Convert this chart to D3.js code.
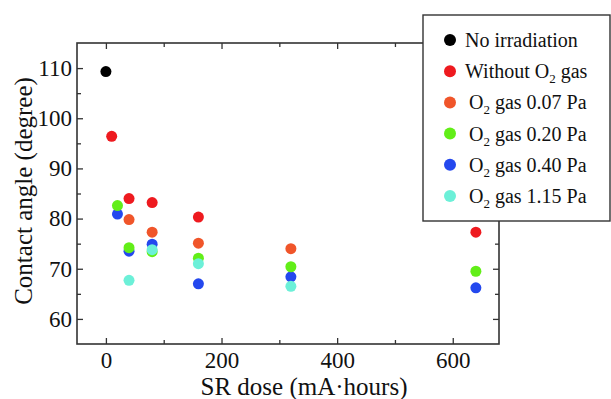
<!DOCTYPE html>
<meta charset="utf-8">
<body style="margin:0">
<svg width="611" height="399"></svg>
<script src="https://cdn.jsdelivr.net/npm/d3@7"></script>
<script>

// data: [dose, contact angle]
var noIrradiation = [[0, 109.3]];
var withoutO2 = [[10, 96.4], [40, 84.0], [80, 83.2], [160, 80.3], [640, 77.3]];
var o2_007 = [[40, 79.8], [80, 77.3], [160, 75.1], [320, 74.0]];
var o2_040 = [[20, 80.9], [40, 73.5], [80, 74.9], [160, 67.0], [320, 68.4], [640, 66.2]];
var o2_020 = [[20, 82.6], [40, 74.2], [80, 73.4], [160, 72.1], [320, 70.4], [640, 69.5]];
var o2_115 = [[40, 67.7], [80, 73.8], [160, 71.0], [320, 66.5]];

var xMajor = [0, 200, 400, 600];
var xMinor = [100, 300, 500];
var yMajor = [60, 70, 80, 90, 100, 110];
var yMinor = [65, 75, 85, 95, 105];

var series = [
  {name: "No irradiation", data: noIrradiation, color: "#000000"},
  {name: "Without O2 gas", data: withoutO2, color: "#ee1a1f"},
  {name: "O2 gas 0.07 Pa", data: o2_007, color: "#f0552a"},
  {name: "O2 gas 0.40 Pa", data: o2_040, color: "#2448ee"},
  {name: "O2 gas 0.20 Pa", data: o2_020, color: "#62ee18"},
  {name: "O2 gas 1.15 Pa", data: o2_115, color: "#6cf0d8"}
];
var legendOrder = [0, 1, 2, 4, 3, 5];

var svg = d3.select("svg")
    .style("font-family", "'Liberation Serif'");
var pl = 77, pr = 499, pt = 43, pb = 344;

var x = d3.scaleLinear().domain([-50, 680]).range([pl, pr]);
var y = d3.scaleLinear().domain([55, 115]).range([pb, pt]);

function axisGroup(axis, tx, ty) {
  var g = svg.append("g")
      .attr("transform", "translate(" + tx + "," + ty + ")")
      .call(axis);
  g.attr("font-family", null).attr("font-size", null);
  g.select(".domain").remove();
  g.selectAll("line").attr("stroke", "#333").attr("stroke-width", 1.3);
  g.selectAll("text")
    .style("font-family", "'Liberation Serif'")
    .style("font-size", "23px")
    .attr("fill", "#111");
  return g;
}

// bottom / left with labels
axisGroup(d3.axisBottom(x).tickValues(xMajor).tickSize(-6).tickPadding(8), 0, pb);
axisGroup(d3.axisBottom(x).tickValues(xMinor).tickSize(-4).tickFormat(""), 0, pb);
axisGroup(d3.axisLeft(y).tickValues(yMajor).tickSize(-6).tickPadding(5), pl, 0);
axisGroup(d3.axisLeft(y).tickValues(yMinor).tickSize(-4).tickFormat(""), pl, 0);
// top / right mirror ticks
axisGroup(d3.axisTop(x).tickValues(xMajor).tickSize(-6).tickFormat(""), 0, pt);
axisGroup(d3.axisTop(x).tickValues(xMinor).tickSize(-4).tickFormat(""), 0, pt);
axisGroup(d3.axisRight(y).tickValues(yMajor).tickSize(-6).tickFormat(""), pr, 0);
axisGroup(d3.axisRight(y).tickValues(yMinor).tickSize(-4).tickFormat(""), pr, 0);

svg.append("rect")
  .attr("x", pl).attr("y", pt)
  .attr("width", pr - pl).attr("height", pb - pt)
  .attr("fill", "none").attr("stroke", "#333").attr("stroke-width", 1.6);

// points
series.forEach(function(s) {
  svg.append("g").selectAll("circle")
    .data(s.data)
    .enter().append("circle")
      .attr("cx", function(d) { return x(d[0]); })
      .attr("cy", function(d) { return y(d[1]); })
      .attr("r", 5.5)
      .attr("fill", s.color);
});

// axis titles
svg.append("text")
  .attr("x", 304).attr("y", 395)
  .attr("text-anchor", "middle")
  .style("font-family", "'Liberation Serif'")
  .style("font-size", "25px")
  .attr("fill", "#111")
  .text("SR dose (mA\u00b7hours)");

svg.append("text")
  .attr("transform", "translate(32,191) rotate(-90)")
  .attr("text-anchor", "middle")
  .style("font-family", "'Liberation Serif'")
  .style("font-size", "25px")
  .attr("fill", "#111")
  .text("Contact angle (degree)");

// legend
var legend = svg.append("g");
legend.append("rect")
  .attr("x", 423).attr("y", 15).attr("width", 187).attr("height", 206)
  .attr("fill", "#fff").attr("stroke", "#333").attr("stroke-width", 1.4);

legendOrder.forEach(function(idx, i) {
  var s = series[idx];
  var cy = 40 + i * 31.2;
  legend.append("circle")
    .attr("cx", 450).attr("cy", cy).attr("r", 6)
    .attr("fill", s.color);
  var t = legend.append("text")
    .attr("x", idx <= 1 ? 465 : 469).attr("y", cy + 7)
    .style("font-family", "'Liberation Serif'")
    .style("font-size", "20px")
    .attr("fill", "#111");
  var m = s.name.match(/^(.*?)O2(.*)$/);
  if (m) {
    t.append("tspan").text(m[1] + "O");
    t.append("tspan").attr("dy", 5).style("font-size", "13px").text("2");
    t.append("tspan").attr("dy", -5).text(m[2]);
  } else {
    t.text(s.name);
  }
});

</script>
